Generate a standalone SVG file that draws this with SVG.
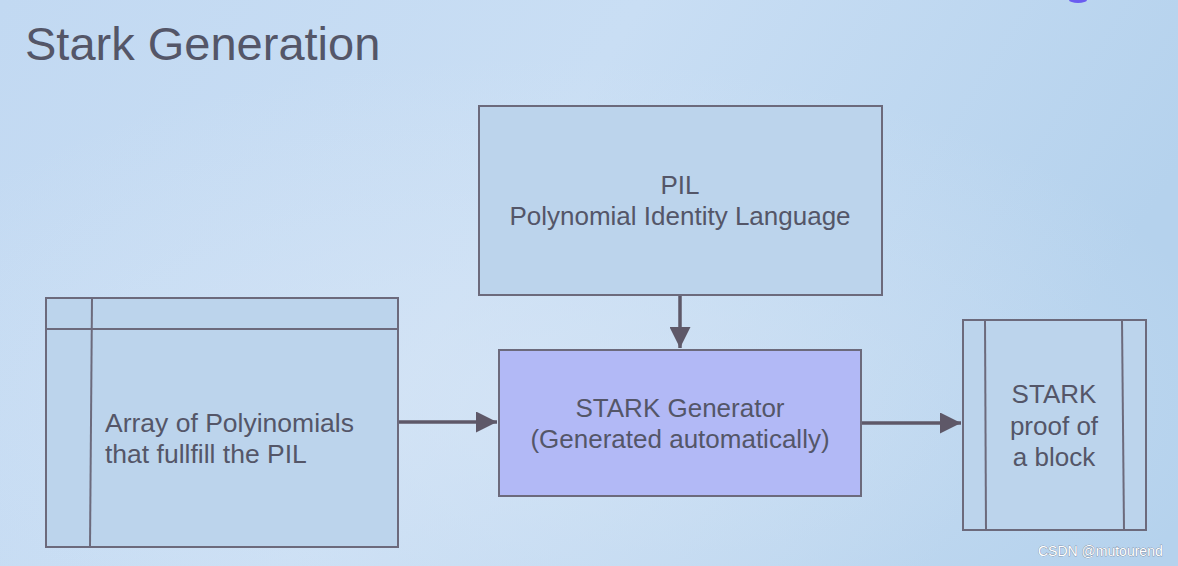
<svg xmlns="http://www.w3.org/2000/svg" width="1178" height="566" viewBox="0 0 1178 566">
<defs>
<linearGradient id="bg" x1="0" y1="0" x2="1" y2="0.3">
<stop offset="0" stop-color="#c2d9f2"/>
<stop offset="0.5" stop-color="#c9def4"/>
<stop offset="1" stop-color="#b5d2ed"/>
</linearGradient>
<radialGradient id="glow" cx="0.45" cy="0.7" r="0.6">
<stop offset="0" stop-color="#d8e6f6" stop-opacity="0.7"/>
<stop offset="1" stop-color="#d8e6f6" stop-opacity="0"/>
</radialGradient>
<marker id="ah" viewBox="0 0 10 10" refX="10" refY="5" markerWidth="7.5" markerHeight="6" markerUnits="strokeWidth" orient="auto">
<path d="M0,0 L10,5 L0,10 z" fill="#5e5868"/>
</marker>
</defs>
<style>
.box{fill:#bcd4ec;stroke:#6c6a7c;stroke-width:2}
.gen{fill:#b2b9f6;stroke:#6c6a7c;stroke-width:2}
.div{stroke:#6c6a7c;stroke-width:2;fill:none}
.t{font-family:"Liberation Sans",Arial,sans-serif;fill:#545668}
.c{stroke:#5e5868;stroke-width:3.5;fill:none;marker-end:url(#ah)}
</style>
<rect width="1178" height="566" fill="url(#bg)"/>
<rect width="1178" height="566" fill="url(#glow)"/>
<ellipse cx="1078" cy="0" rx="9" ry="3" fill="#6a5cf0"/>
<text class="t" x="25" y="60" font-size="47" fill="#4c5062">Stark Generation</text>

<g id="connectors">
<line class="c" x1="680" y1="296" x2="680" y2="348"/>
<line class="c" x1="399" y1="422" x2="497" y2="422"/>
<line class="c" x1="862" y1="423" x2="961" y2="423"/>
</g>

<g id="pil">
<rect class="box" x="479" y="106" width="403" height="189"/>
<text class="t" x="680" y="194" font-size="26" text-anchor="middle">PIL</text>
<text class="t" x="680" y="225" font-size="26" text-anchor="middle">Polynomial Identity Language</text>
</g>

<g id="array">
<rect class="box" x="46" y="298" width="352" height="249"/>
<line class="div" x1="46" y1="329" x2="398" y2="329"/>
<line class="div" x1="92" y1="298" x2="90" y2="547"/>
<text class="t" x="105" y="432" font-size="26.5">Array of Polyinomials</text>
<text class="t" x="105" y="463" font-size="26.5">that fullfill the PIL</text>
</g>

<g id="generator">
<rect class="gen" x="499" y="350" width="362" height="146"/>
<text class="t" x="680" y="417" font-size="26" text-anchor="middle">STARK Generator</text>
<text class="t" x="680" y="448" font-size="26" text-anchor="middle">(Generated automatically)</text>
</g>

<g id="proof">
<rect class="box" x="963" y="320" width="183" height="210"/>
<line class="div" x1="985" y1="320" x2="986" y2="530"/>
<line class="div" x1="1122" y1="320" x2="1124" y2="530"/>
<text class="t" x="1054" y="403" font-size="26" text-anchor="middle">STARK</text>
<text class="t" x="1054" y="435" font-size="26" text-anchor="middle">proof of</text>
<text class="t" x="1054" y="466" font-size="26" text-anchor="middle">a block</text>
</g>

<text x="1038" y="556" font-family="'Liberation Sans',Arial,sans-serif" font-size="14" fill="#ffffff" stroke="#5a6070" stroke-width="0.5" paint-order="stroke">CSDN @mutourend</text>
</svg>
